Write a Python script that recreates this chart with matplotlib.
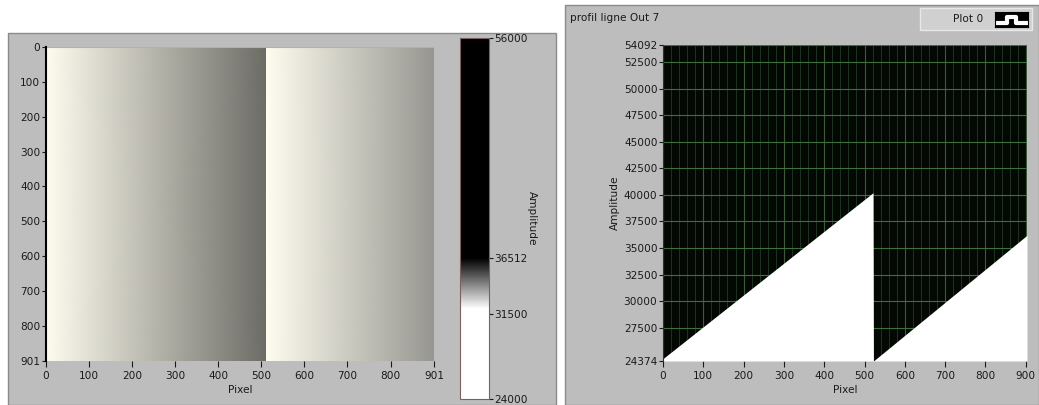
import numpy as np
import matplotlib.pyplot as plt
from matplotlib.colors import LinearSegmentedColormap, Normalize
from matplotlib.cm import ScalarMappable
from matplotlib.patches import Rectangle

# line profile "Out 7": ramp end points
profile_px = [0, 521, 522, 903]
profile_amp = [24600, 40200, 24374, 36200]

# intensity image: every row has the same column profile
img_cols = [0, 511, 512, 901]
img_rows = [0, 901]
img_vals = [24374, 40200, 24374, 36200]

img_xticks = [0, 100, 200, 300, 400, 500, 600, 700, 800, 901]
img_yticks = [0, 100, 200, 300, 400, 500, 600, 700, 800, 901]
cbar_ticks = [24000, 31500, 36512, 56000]
prof_xticks = [0, 100, 200, 300, 400, 500, 600, 700, 800, 900]
prof_yticks = [24374, 27500, 30000, 32500, 35000, 37500, 40000,
               42500, 45000, 47500, 50000, 52500, 54092]

W, H = 1039, 405
PANEL = '#bdbdbd'
TXT = '#1a1a1a'
FS = 7.6


def box(x0, y0, x1, y1):
    # pixel box (top-left origin) -> figure fraction rect
    return [x0 / W, 1 - y1 / H, (x1 - x0) / W, (y1 - y0) / H]


def panel(x0, y0, x1, y1, fc, ec):
    r = box(x0, y0, x1, y1)
    fig.patches.append(Rectangle((r[0], r[1]), r[2], r[3], transform=fig.transFigure,
                                 facecolor=fc, edgecolor=ec, lw=1, zorder=-5))


fig = plt.figure(figsize=(W / 100, H / 100), dpi=100)
fig.patch.set_facecolor('white')

# grey LabVIEW panels
panel(8, 33, 556, 405, PANEL, '#8a8a8a')
panel(565, 5, 1039, 405, PANEL, '#8a8a8a')

# ---- intensity graph ----
ax1 = fig.add_axes(box(46, 47, 434, 361))
img_cmap = LinearSegmentedColormap.from_list('img', ['#fffdf0', '#dcdcd6', '#a4a49e', '#6c6c66'])
X, Y = np.meshgrid(img_cols, img_rows)
C = np.array([img_vals, img_vals])
ax1.pcolormesh(X, Y, C, shading='gouraud', cmap=img_cmap,
               norm=Normalize(24374, 40200), rasterized=True)
ax1.axhline(0, color='#c8b850', lw=1.5)
ax1.set_xlim(0, 901)
ax1.set_ylim(901, 0)
ax1.set_xticks(img_xticks)
ax1.set_yticks(img_yticks)
for s in ['top', 'right', 'bottom']:
    ax1.spines[s].set_visible(False)
ax1.spines['left'].set_linewidth(1.5)
ax1.tick_params(labelsize=FS, colors=TXT, length=3, width=0.8, pad=1)
ax1.tick_params(axis='x', length=4, pad=3)
ax1.set_xlabel('Pixel', fontsize=FS, color=TXT, labelpad=3)

# ---- colour scale ----
cax = fig.add_axes(box(460, 38, 489, 399))
cb_cmap = LinearSegmentedColormap.from_list(
    'cb', [(0, 'white'), (0.25, 'white'), (0.39, 'black'), (1, 'black')], N=1024)
cb = fig.colorbar(ScalarMappable(Normalize(24000, 56000), cb_cmap), cax=cax)
cb.set_ticks(cbar_ticks)
cb.outline.set_edgecolor('#7a6060')
cax.tick_params(labelsize=FS, colors=TXT, length=3, width=0.8, pad=1)
fig.text(532 / W, 1 - 218 / H, 'Amplitude', rotation=-90, fontsize=FS, color=TXT,
         ha='center', va='center')

# ---- waveform graph ----
ax2 = fig.add_axes(box(663, 45, 1027, 361))
ax2.set_facecolor('#030803')
ax2.set_axisbelow(True)
ax2.fill_between(profile_px, profile_amp, 24374, color='white', lw=0, zorder=2)
ax2.set_xlim(0, 903)
ax2.set_ylim(24374, 54092)
ax2.set_xticks(prof_xticks)
ax2.set_xticks(np.arange(0, 904, 20), minor=True)
ax2.set_yticks(prof_yticks)
ax2.grid(True, which='major', axis='y', color='#3d703d', lw=0.8)
ax2.grid(True, which='major', axis='x', color='#3a5a3a', lw=0.8)
ax2.grid(True, which='minor', axis='x', color='#1e3320', lw=0.7)
ax2.tick_params(which='minor', length=0)
ax2.tick_params(labelsize=FS, colors=TXT, length=3, width=0.8, pad=1)
ax2.tick_params(axis='x', length=4, pad=3)
for s in ['top', 'right', 'bottom']:
    ax2.spines[s].set_visible(False)
ax2.spines['left'].set_color('#303030')
ax2.set_xlabel('Pixel', fontsize=FS, color=TXT, labelpad=3)
ax2.set_ylabel('Amplitude', fontsize=FS, color=TXT, labelpad=3)

fig.text(570 / W, 1 - 18 / H, 'profil ligne Out 7', fontsize=FS, color=TXT, va='center')

# legend "Plot 0"
r = box(920, 8, 1032, 30)
fig.patches.append(Rectangle((r[0], r[1]), r[2], r[3], transform=fig.transFigure,
                             facecolor='#d0d0d0', edgecolor='#e8e8e8', lw=1, zorder=-4))
fig.text(983 / W, 1 - 19 / H, 'Plot 0', fontsize=FS, color=TXT, ha='right', va='center')
icon = fig.add_axes(box(995, 12, 1028, 27))
icon.set_facecolor('black')
icon.plot([0, 1, 1, 2, 2, 3], [0.3, 0.3, 0.7, 0.7, 0.3, 0.3], color='white', lw=3)
icon.set_xlim(-0.2, 3.2)
icon.set_ylim(0, 1)
icon.set_xticks([])
icon.set_yticks([])

fig.savefig('out.png', dpi=100)
